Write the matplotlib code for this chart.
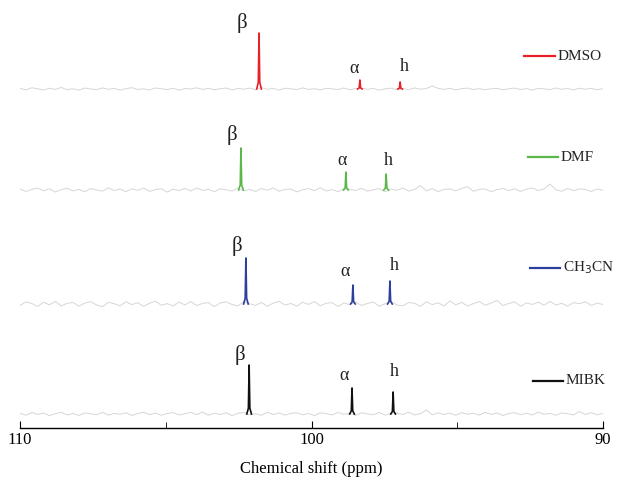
import numpy as np
import matplotlib
matplotlib.use("Agg")
import matplotlib.pyplot as plt
from matplotlib.ticker import MultipleLocator

plt.rcParams["font.family"] = ["Liberation Serif", "DejaVu Serif"]

# ---------------- data ----------------
solvents = ["DMSO", "DMF", "CH$_3$CN", "MIBK"]
colors = ["#e8202a", "#5ab848", "#2b3f9b", "#111111"]
baselines = [339, 238, 124, 14]

peak_names = ["β", "α", "h"]
# peak positions (ppm) and heights (arb. units) per solvent
peak_ppm = [
    [101.80, 98.34, 96.96],
    [102.42, 98.82, 97.44],
    [102.25, 98.58, 97.31],
    [102.14, 98.61, 97.20],
]
peak_height = [
    [56, 9, 7],
    [42, 18, 16],
    [46, 19, 23],
    [49, 26, 22],
]
# label anchor (ppm, intensity) per solvent
label_pos = [
    [(102.38, 405), (98.54, 360), (96.83, 362)],
    [(102.73, 293), (98.95, 268), (97.38, 268)],
    [(102.56, 182), (98.85, 156), (97.17, 162)],
    [(102.45, 73), (98.88, 52), (97.17, 56)],
]

noise_dmso = [0.5, -0.8, 1.2, 0.3, -1.0, 0.8, -0.4, 1.5, -0.6, 0.2,
              -1.2, 0.9, 0.1, -0.7, 1.1, -0.3, 0.6, -1.1, 0.4, 1.3,
              -0.5, 0.2, -0.9, 1.0, 0.3, -0.6, 0.8, -1.3, 0.5, 0.0,
              1.2, -0.4, 0.7, -0.8, 0.3, 1.0, -1.0, 0.6, -0.2, 0.9,
              -0.7, 1.4, -0.3, 0.5, -1.1, 0.8, 0.2, -0.6, 1.1, -0.4,
              0.3, -0.9, 0.7, 0.1, -0.5, 1.0, -0.8, 0.4, 0.9, -0.3,
              0.6, -1.2, 0.2, 0.8, -0.5, 0.3, -0.7, 1.1, -0.2, 0.5,
              3.0, 0.7, -0.4, 0.6, -0.8, 0.3, 0.9, -0.5, 0.4, -0.7,
              0.2, 0.6, -0.8, 0.2, 0.9, -0.5, 0.4, -1.1, 0.7, 0.1,
              -0.6, 1.0, -0.3, 0.5, -0.9, 0.8, -0.2, 0.6, -0.7, 0.3]
noise_dmf = [1.0, -1.5, 0.5, 2.0, -0.8, 1.2, -2.0, 0.3, 1.8, -1.0,
             0.6, -1.8, 1.5, 0.0, -1.2, 2.2, -0.5, 0.9, -1.6, 1.1,
             -0.3, 1.9, -1.4, 0.4, 1.3, -2.1, 0.8, -0.6, 1.6, -1.0,
             2.0, -0.4, 0.7, -1.7, 1.2, 0.2, -1.1, 1.8, -0.8, 0.5,
             -1.5, 1.4, -0.2, 2.1, -1.3, 0.6, 1.0, -1.9, 0.3, 1.5,
             -0.7, 2.3, -1.0, 0.4, -1.6, 1.2, 0.8, -0.5, 1.7, -1.2,
             0.2, 1.4, -1.8, 0.9, -0.3, 2.0, -1.1, 0.6, 4.5, -0.9,
             1.3, -1.5, 0.5, 1.1, -0.8, 1.6, 3.2, -1.3, 0.7, 1.0,
             -1.7, 0.4, 1.5, -0.6, 1.2, -1.4, 0.8, 2.0, -0.5, 1.0,
             6.0, 0.2, -1.2, 1.6, -0.7, 1.1, 0.5, -1.5, 0.9, -0.3]
noise_ch3cn = [-1.5, 2.0, 0.5, -2.5, 1.8, -0.8, 2.6, -1.9, 0.7, 1.5,
               -2.2, 0.9, 2.4, -1.0, -2.6, 1.7, 0.3, -1.8, 2.2, -0.6,
               1.2, -2.4, 0.8, 2.8, -1.3, 0.4, -2.0, 1.9, -0.9, 2.5,
               -1.6, 0.6, 1.4, -2.7, 1.0, 2.1, -0.5, -1.9, 2.3, 0.2,
               -1.4, 1.6, -2.3, 0.9, 2.6, -1.1, 0.5, -2.1, 1.8, -0.4,
               2.4, -1.7, 0.8, 1.3, -2.5, 1.1, -0.7, 2.0, -1.5, 0.6,
               1.9, -2.2, 0.3, 2.7, -1.0, -1.8, 1.5, 0.7, -2.4, 2.2,
               -0.6, 1.2, -1.9, 3.0, -0.8, 1.7, -2.0, 0.4, 2.5, -1.3,
               0.9, 3.5, -1.6, 0.5, 2.1, -2.3, 1.0, -0.4, 1.8, -1.2,
               2.6, -0.9, 0.6, -2.1, 1.4, 0.2, 2.3, -1.5, 0.8, -0.5]
noise_mibk = [0.8, -1.2, 1.5, -0.4, 0.9, -1.6, 0.3, 1.8, -0.9, 0.5,
              -1.4, 1.1, 0.2, -0.8, 1.7, -1.1, 0.6, -0.3, 1.3, -1.5,
              0.4, 1.9, -0.7, 0.9, -1.3, 0.5, 1.4, -1.0, 0.2, 1.6,
              -0.6, 2.0, -1.2, 0.7, -0.4, 1.2, -1.7, 0.8, 1.5, -0.9,
              0.3, -1.3, 1.8, -0.5, 1.0, -1.1, 0.6, 1.3, -0.8, 0.4,
              -1.5, 1.1, 0.5, -0.9, 1.6, -0.3, 0.8, -1.4, 1.2, 0.1,
              -0.7, 1.5, -1.2, 0.6, 1.0, -0.5, 1.7, -1.0, 0.4, 4.0,
              -0.8, 1.2, -0.6, 0.9, -1.3, 1.4, -0.2, 0.7, -1.1, 1.6,
              -0.4, 1.0, -1.5, 0.5, 1.3, -0.7, 0.8, -1.0, 1.9, -0.3,
              0.6, -1.2, 1.1, 0.3, -0.9, 2.5, -0.5, 1.4, -0.8, 0.6]
noises = [noise_dmso, noise_dmf, noise_ch3cn, noise_mibk]

# legend entries (line start/end ppm, intensity)
legend_pos = [(92.71, 91.65, 372), (92.57, 91.55, 271),
              (92.50, 91.47, 160), (92.40, 91.37, 47)]

# ---------------- plot ----------------
fig = plt.figure(figsize=(6.19, 4.83), dpi=100)
ax = fig.add_axes([20 / 619, 55 / 483, 583 / 619, 428 / 483])

# peak line shape
shape_dx = [-0.08, -0.025, 0.0, 0.025, 0.08]
shape_f = [0.0, 0.12, 1.0, 0.12, 0.0]

for i, name in enumerate(solvents):
    base = baselines[i]
    nz = np.array(noises[i])
    xs = np.linspace(110, 90, len(nz))
    ax.plot(xs, base + nz, color="#d6d6d6", lw=0.7, zorder=1)

    for p, h in zip(peak_ppm[i], peak_height[i]):
        px = [p + d for d in shape_dx]
        py = [base + f * h for f in shape_f]
        ax.plot(px, py, color=colors[i], lw=1.2, zorder=3)

    for lab, (lx, ly) in zip(peak_names, label_pos[i]):
        fs = 15 if lab == "β" else 13
        ax.text(lx, ly, lab, fontsize=fs, ha="center", va="center",
                color="#222222")

    x0, x1, ly = legend_pos[i]
    ax.plot([x0, x1], [ly, ly], color=colors[i], lw=1.6)
    ax.text(x1 - 0.1, ly, name, fontsize=11, ha="left", va="center",
            color="#222222")

ax.set_xlim(110, 90)
ax.set_ylim(0, 428)
for s in ["top", "left", "right"]:
    ax.spines[s].set_visible(False)
ax.spines["bottom"].set_linewidth(1.0)
ax.set_yticks([])
ax.xaxis.set_major_locator(MultipleLocator(10))
ax.xaxis.set_minor_locator(MultipleLocator(5))
ax.tick_params(axis="x", which="both", direction="in", labelsize=12, pad=3)
ax.tick_params(axis="x", which="major", length=5)
ax.tick_params(axis="x", which="minor", length=4)
ax.set_xlabel("Chemical shift (ppm)", fontsize=12, labelpad=9)

fig.savefig("out.png", dpi=100)
